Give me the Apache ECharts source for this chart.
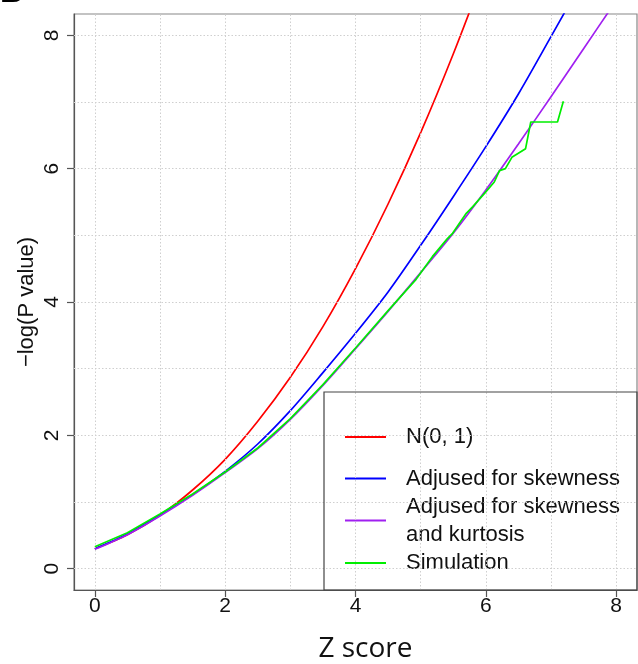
<!DOCTYPE html>
<html>
<head>
<meta charset="utf-8">
<script src="https://cdn.jsdelivr.net/npm/echarts@6/dist/echarts.min.js"></script>
<style>
  html, body { margin: 0; padding: 0; background: #fff; }
  #chart { width: 638px; height: 664px; }
</style>
</head>
<body>
<div id="chart"></div>
<script>
// Tail probabilities on the -log10 scale against the Z score
const tickValues = [0, 2, 4, 6, 8];
const gridValues = [0, 1, 2, 3, 4, 5, 6, 7, 8];

const normalZ = [0, 0.5, 1, 1.5, 2, 2.5, 3, 3.5, 4, 4.5, 5, 5.5, 6];
const normalP = [0.30, 0.51, 0.80, 1.18, 1.64, 2.21, 2.87, 3.63, 4.50, 5.47, 6.54, 7.72, 9.00];

const skewZ = [0, 0.5, 1, 1.5, 2, 2.5, 3, 3.5, 4, 4.5, 5, 5.5, 6, 6.5, 7, 7.5];
const skewP = [0.30, 0.52, 0.81, 1.11, 1.46, 1.87, 2.37, 2.94, 3.53, 4.15, 4.85, 5.58, 6.33, 7.12, 7.98, 8.85];

const kurtZ = [0, 0.5, 1, 1.5, 2, 2.5, 3, 3.5, 4, 4.5, 5, 5.5, 6, 6.5, 7, 7.5, 8];
const kurtP = [0.29, 0.51, 0.79, 1.10, 1.44, 1.80, 2.24, 2.75, 3.30, 3.86, 4.44, 5.03, 5.68, 6.37, 7.08, 7.80, 8.52];

const simZ = [0, 0.5, 1, 1.5, 2, 2.5, 3, 3.5, 4, 4.5, 4.93, 5.18, 5.41, 5.49, 5.70, 5.80, 5.98, 6.13, 6.21, 6.30, 6.40, 6.61, 6.69, 7.10, 7.19];
const simP = [0.33, 0.54, 0.82, 1.12, 1.45, 1.81, 2.25, 2.76, 3.31, 3.87, 4.34, 4.68, 4.95, 5.03, 5.33, 5.43, 5.63, 5.80, 5.97, 6.00, 6.17, 6.30, 6.70, 6.70, 7.01];

const seriesNames = ['N(0, 1)', 'Adjused for skewness', 'Adjused for skewness\nand kurtosis', 'Simulation'];
const seriesColors = ['#ff0000', '#0000ff', '#a020f0', '#00ee00'];

const pairs = (xs, ys) => xs.map((x, i) => [x, ys[i]]);

const baseFont = 'Liberation Sans, Arial, sans-serif';
const chart = echarts.init(document.getElementById('chart'), null, { renderer: 'canvas' });

const axisCommon = {
  type: 'value',
  min: -0.32,
  max: 8.32,
  nameMoveOverlap: false,
  splitLine: { show: false },
  axisLine: { show: true, onZero: false, lineStyle: { color: '#555', width: 1.2 } },
  axisTick: { show: true, customValues: tickValues, length: 7, lineStyle: { color: '#555', width: 1.2 } },
};

// one legend block per series so the two-line entry keeps the even row spacing
const legendTops = [423, 464.5, 492.5, 549];
const legendItem = (i) => ({
  data: [seriesNames[i]],
  orient: 'vertical',
  left: 345,
  top: legendTops[i],
  padding: 0,
  icon: 'rect',
  itemWidth: 41,
  itemHeight: 2,
  selectedMode: false,
  textStyle: {
    fontFamily: baseFont,
    fontSize: 22,
    lineHeight: 28,
    color: '#111',
    padding: [0, 0, 0, 15]
  }
});

const lineSeries = (i, data, smooth) => ({
  name: seriesNames[i],
  type: 'line',
  data: data,
  showSymbol: false,
  symbol: 'none',
  smooth: smooth,
  clip: true,
  silent: true,
  color: seriesColors[i],
  itemStyle: { color: seriesColors[i] },
  lineStyle: { color: seriesColors[i], width: 1.7 },
  z: 3 + i
});

chart.setOption({
  animation: false,
  backgroundColor: '#fff',
  grid: {
    left: 74, right: 1, top: 14, bottom: 74,
    outerBoundsMode: 'none',
    show: true, borderColor: '#888', borderWidth: 1.2
  },
  xAxis: Object.assign({}, axisCommon, {
    name: 'Z score',
    nameLocation: 'middle',
    nameGap: 45,
    nameTextStyle: { fontFamily: 'Open Sans, sans-serif', fontSize: 28, color: '#111', padding: [0, 0, 0, 20] },
    axisLabel: { customValues: tickValues, fontFamily: baseFont, fontSize: 21, color: '#111', margin: 6 }
  }),
  yAxis: Object.assign({}, axisCommon, {
    name: '\u2212log(P value)',
    nameLocation: 'middle',
    nameGap: 36,
    nameTextStyle: { fontFamily: baseFont, fontSize: 22, color: '#111' },
    axisLabel: { customValues: tickValues, rotate: 90, fontFamily: baseFont, fontSize: 21, color: '#111', margin: 11 }
  }),
  legend: [0, 1, 2, 3].map(legendItem),
  graphic: [
    {
      type: 'rect',
      shape: { x: 324, y: 392, width: 313, height: 198 },
      style: { fill: 'none', stroke: '#444', lineWidth: 1.2 },
      z: 10, silent: true
    },
    {
      type: 'text',
      left: 0, top: -23,
      style: { text: 'B', fontFamily: baseFont, fontWeight: 'bold', fontSize: 32, fill: '#000' },
      silent: true
    }
  ],
  series: [
    {
      name: 'gridlines',
      type: 'line',
      data: [],
      silent: true,
      z: 1,
      markLine: {
        silent: true,
        symbol: 'none',
        label: { show: false },
        animation: false,
        lineStyle: { color: '#cfcfcf', type: [1.5, 2], width: 1 },
        emphasis: { disabled: true },
        data: gridValues.map(v => ({ xAxis: v })).concat(gridValues.map(v => ({ yAxis: v })))
      }
    },
    lineSeries(0, pairs(normalZ, normalP), 0.3),
    lineSeries(1, pairs(skewZ, skewP), 0.3),
    lineSeries(2, pairs(kurtZ, kurtP), 0.3),
    lineSeries(3, pairs(simZ, simP), false)
  ]
});
</script>
</body>
</html>
